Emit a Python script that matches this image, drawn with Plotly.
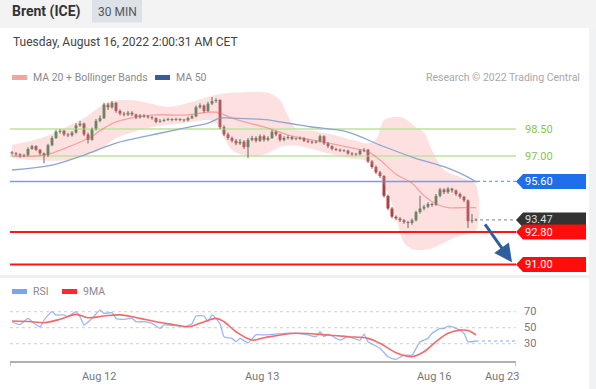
import plotly.graph_objects as go

W, H = 596, 389
def px(x): return x / W
def py(y): return 1 - y / H

FONT = "Roboto"

# ---------------- data ----------------
opens = [97.20, 97.15, 97.10, 97.00, 97.05, 97.40, 97.55, 97.35, 97.15, 97.05,
         97.60, 98.00, 98.35, 98.40, 98.20, 98.15, 98.30, 98.70, 98.80, 98.20,
         97.90, 98.50, 98.95, 99.10, 99.85, 99.70, 99.95, 99.50, 99.35, 99.30,
         99.40, 99.30, 99.15, 99.25, 99.20, 99.15, 99.10, 98.90, 98.95, 99.00,
         99.05, 99.00, 99.05, 99.00, 98.98, 99.10, 99.20, 99.70, 99.80, 99.50,
         99.90, 100.05, 100.10, 98.60, 98.20, 98.00, 97.85, 97.70, 97.80, 97.50,
         97.90, 98.00, 97.85, 98.10, 97.90, 98.00, 98.35, 98.20, 97.90, 98.00,
         98.05, 97.95, 97.95, 98.00, 97.85, 97.80, 97.75, 97.80, 98.10, 97.70,
         97.55, 97.40, 97.35, 97.30, 97.30, 97.15, 97.10, 97.10, 97.30, 97.35,
         96.70, 96.40, 96.10, 95.90, 94.80, 94.10, 93.65, 93.55, 93.45, 93.35,
         93.30, 93.45, 93.90, 94.10, 94.20, 94.35, 94.30, 94.80, 95.15, 95.00,
         95.20, 95.10, 94.90, 94.75, 94.55, 93.40, 93.45]
highs = [97.28, 97.22, 97.15, 97.12, 97.48, 97.62, 97.60, 97.40, 97.20, 97.68,
         98.10, 98.45, 98.48, 98.45, 98.28, 98.38, 98.82, 98.95, 98.85, 98.30,
         98.58, 99.05, 99.25, 99.95, 99.95, 100.05, 100.00, 99.58, 99.45, 99.50,
         99.48, 99.35, 99.32, 99.32, 99.26, 99.22, 99.15, 99.05, 99.08, 99.12,
         99.10, 99.12, 99.10, 99.06, 99.18, 99.30, 99.80, 99.92, 99.85, 100.00,
         100.27, 100.20, 100.15, 98.70, 98.30, 98.08, 97.95, 97.95, 97.88, 98.00,
         98.12, 98.10, 98.20, 98.18, 98.10, 98.45, 98.42, 98.25, 98.10, 98.15,
         98.10, 98.02, 98.08, 98.05, 97.92, 97.86, 97.88, 98.18, 98.15, 97.78,
         97.60, 97.46, 97.42, 97.38, 97.35, 97.22, 97.18, 97.38, 97.45, 97.40,
         96.78, 96.48, 96.18, 95.95, 94.88, 94.18, 93.72, 93.62, 93.52, 93.42,
         93.55, 93.98, 94.80, 94.30, 94.45, 94.42, 94.90, 95.25, 95.22, 95.28,
         95.25, 95.15, 94.98, 94.80, 94.60, 93.80, 93.55]
lows = [97.08, 97.02, 96.92, 96.95, 97.00, 97.35, 97.28, 97.05, 96.60, 96.95,
        97.55, 97.95, 98.25, 98.10, 98.05, 98.08, 98.25, 98.62, 98.10, 97.70,
        97.85, 98.42, 98.88, 99.05, 99.55, 99.62, 99.40, 99.25, 99.20, 99.22,
        99.22, 99.05, 99.08, 99.12, 99.08, 99.02, 98.82, 98.85, 98.90, 98.95,
        98.92, 98.95, 98.93, 98.90, 98.92, 99.05, 99.15, 99.62, 99.40, 99.45,
        99.82, 99.95, 98.50, 98.10, 97.90, 97.75, 97.60, 97.62, 97.40, 96.90,
        97.82, 97.75, 97.78, 97.80, 97.82, 97.95, 98.10, 97.80, 97.82, 97.92,
        97.88, 97.88, 97.90, 97.78, 97.72, 97.68, 97.70, 97.75, 97.62, 97.45,
        97.32, 97.28, 97.22, 97.22, 97.08, 97.02, 97.02, 97.05, 97.22, 96.62,
        96.30, 96.00, 95.80, 94.70, 94.00, 93.55, 93.45, 93.35, 93.25, 93.02,
        93.20, 93.38, 93.82, 94.00, 94.12, 94.20, 94.25, 94.72, 94.90, 94.92,
        94.98, 94.80, 94.65, 94.45, 93.02, 93.30, 93.40]
closes = [97.15, 97.10, 97.00, 97.05, 97.40, 97.55, 97.35, 97.15, 97.05, 97.60,
          98.00, 98.35, 98.40, 98.20, 98.15, 98.30, 98.70, 98.80, 98.20, 97.90,
          98.50, 98.95, 99.10, 99.85, 99.70, 99.95, 99.50, 99.35, 99.30, 99.40,
          99.30, 99.15, 99.25, 99.20, 99.15, 99.10, 98.90, 98.95, 99.00, 99.05,
          99.00, 99.05, 99.00, 98.98, 99.10, 99.20, 99.70, 99.80, 99.50, 99.90,
          100.05, 100.10, 98.60, 98.20, 98.00, 97.85, 97.70, 97.80, 97.50, 97.90,
          98.00, 97.85, 98.10, 97.90, 98.00, 98.35, 98.20, 97.90, 98.00, 98.05,
          97.95, 97.95, 98.00, 97.85, 97.80, 97.75, 97.80, 98.10, 97.70, 97.55,
          97.40, 97.35, 97.30, 97.30, 97.15, 97.10, 97.10, 97.30, 97.35, 96.70,
          96.40, 96.10, 95.90, 94.80, 94.10, 93.65, 93.55, 93.45, 93.35, 93.30,
          93.45, 93.90, 94.10, 94.20, 94.35, 94.30, 94.80, 95.15, 95.00, 95.20,
          95.10, 94.90, 94.75, 94.55, 93.40, 93.45, 93.47]
bars = list(range(len(closes)))

ma20_i = [0, 8, 14, 20, 22, 26, 35, 43, 50, 52, 55, 64, 70, 75, 84, 89, 92, 96, 100, 103, 106, 109, 113, 116]
ma20_v = [97.0, 97.06, 97.5, 98.1, 98.4, 98.89, 99.27, 99.27, 99.44, 99.38, 99.1, 98.55, 98.1, 97.9,
          97.5, 97.23, 96.78, 96.0, 95.5, 94.8, 94.35, 94.15, 94.15, 94.15]
bbu_i = [0, 8, 18, 24, 30, 39, 44, 51, 55, 60, 64, 67, 69, 71, 75, 80, 85, 89, 91, 93, 96, 98, 101, 103, 105, 108, 112, 116]
bbu_v = [97.61, 98.06, 99.11, 100.0, 100.1, 99.72, 99.94, 100.4, 100.5, 100.55, 100.5, 100.1, 99.2, 98.5,
         98.4, 98.2, 97.9, 97.7, 97.9, 99.0, 99.16, 99.1, 98.6, 98.3, 97.34, 96.23, 95.84, 95.4]
bbl_i = [0, 5, 14, 22, 26, 35, 43, 49, 51, 55, 60, 64, 67, 70, 75, 80, 85, 89, 92, 94, 96, 98, 100, 102, 105, 108, 112, 116]
bbl_v = [96.9, 96.78, 96.78, 97.34, 98.0, 98.6, 98.83, 99.0, 98.83, 97.34, 96.95, 97.17, 97.5, 97.6,
         97.4, 97.1, 96.85, 96.7, 95.8, 94.96, 93.6, 92.2, 91.85, 91.8, 91.9, 92.2, 92.6, 92.9]
ma50_i = [0, 10, 18, 26, 35, 43, 49, 52, 55, 64, 67, 72, 75, 84, 92, 100, 109, 114, 116]
ma50_v = [96.23, 96.5, 97.06, 97.72, 98.17, 98.55, 98.83, 99.1, 99.1, 99.0, 98.89, 98.72, 98.61, 98.33,
          97.61, 96.95, 96.34, 95.84, 95.57]

rsi_i = [0, 2, 4, 5, 7, 8, 10, 11, 13, 14, 16, 17, 18, 20, 22, 23, 25, 26, 28, 30,
         31, 33, 35, 37, 38, 41, 43, 45, 46, 48, 49, 50, 52, 53, 55, 56, 57, 59, 61, 63,
         66, 68, 71, 74, 76, 77, 78, 79, 82, 84, 87, 88, 89, 92, 94, 96, 98, 100, 102, 104,
         105, 107, 108, 109, 111, 113, 114, 116]
rsi_v = [57.5, 54, 61.7, 57.5, 51, 59.6, 70, 66, 66, 63.7, 70, 63.7, 53.4, 61.7, 72, 68, 68.8, 61.7, 60.5, 61.7,
         57.5, 57.5, 55.5, 49.2, 53.4, 52.5, 51, 55, 64.6, 64.6, 57.5, 66, 55, 38.8, 36.7, 32.5, 36.7, 31.3, 41, 41,
         42, 43, 43, 41, 38.8, 45, 38.8, 42, 34.6, 38.8, 34.6, 42, 32.5, 24.2, 13.8, 10.5, 15.8, 15.8, 32.5, 36.7,
         43, 49.2, 48.8, 52, 49.2, 43, 32.5, 33.4]
ma9_i = [0, 5, 8, 12, 16, 19, 23, 27, 32, 36, 40, 44, 47, 51, 53, 56, 60, 63, 71, 79,
         84, 89, 92, 96, 100, 103, 106, 109, 112, 114, 116]
ma9_v = [58.4, 57.5, 56.3, 60.5, 66.7, 62.5, 64.6, 66, 61.7, 57.5, 54.2, 51.3, 55.5, 61.7, 57.5, 45, 34.6, 37.5, 43, 40.9,
         38.8, 36.7, 30.5, 18.8, 13.8, 20, 32.5, 43, 47, 46.4, 40.9]
rsi_levels = [70, 50, 30]

resist_levels = [98.50, 97.00]
pivot = 95.60
last_price = 93.47
support = 92.80
target = 91.00

tick_pos = [21.8, 62.4, 105.4, 122.4]
tick_text = ["Aug 12", "Aug 13", "Aug 16", "Aug 23"]

# ---------------- styling ----------------
GREEN = "#2f8f3a"
RED = "#d9262c"
X0, X1 = -0.5, 126
XEND = 116.25
PPU = 18.07
Y_TOP = 98.5 + (129 - 88) / PPU
Y_BOT = 98.5 - (275 - 129) / PPU

fig = go.Figure()

# Bollinger band
fig.add_trace(go.Scatter(x=bbu_i + bbl_i[::-1], y=bbu_v + bbl_v[::-1], fill="toself",
                         fillcolor="rgba(250,175,175,0.38)", mode="lines",
                         line=dict(width=0, color="rgba(0,0,0,0)", shape="spline", smoothing=0.8),
                         hoverinfo="skip", yaxis="y"))
# resistance lines
for lv in resist_levels:
    fig.add_trace(go.Scatter(x=[X0, X1], y=[lv, lv], mode="lines",
                             line=dict(color="#bfe09f", width=1.5), yaxis="y"))
# pivot line
fig.add_trace(go.Scatter(x=[X0, XEND], y=[pivot, pivot], mode="lines",
                         line=dict(color="#6f9ef5", width=1.5), yaxis="y"))
fig.add_trace(go.Scatter(x=[XEND, X1], y=[pivot, pivot], mode="lines",
                         line=dict(color="#6f9ef5", width=1.2, dash="dot"), yaxis="y"))
# last price dotted
fig.add_trace(go.Scatter(x=[bars[-1] + 1, X1], y=[last_price, last_price], mode="lines",
                         line=dict(color="#999999", width=1.2, dash="dot"), yaxis="y"))
# MA lines
fig.add_trace(go.Scatter(x=ma50_i, y=ma50_v, mode="lines",
                         line=dict(color="#8ea5cf", width=1.3, shape="spline", smoothing=1), yaxis="y"))
fig.add_trace(go.Scatter(x=ma20_i, y=ma20_v, mode="lines",
                         line=dict(color="rgba(240,120,120,0.6)", width=1.3, shape="spline", smoothing=1), yaxis="y"))
# candles: wicks
wx, wy = [], []
for i, (h, l) in enumerate(zip(highs, lows)):
    wx += [i, i, None]
    wy += [l, h, None]
fig.add_trace(go.Scatter(x=wx, y=wy, mode="lines", line=dict(color="#666666", width=1), yaxis="y"))
body_base = [min(o, c) for o, c in zip(opens, closes)]
body_h = [max(abs(c - o), 0.04) for o, c in zip(opens, closes)]
body_col = [GREEN if c >= o else RED for o, c in zip(opens, closes)]
fig.add_trace(go.Bar(x=bars, y=body_h, base=body_base, width=0.75,
                     marker=dict(color=body_col, line=dict(width=0)), yaxis="y"))
# support / target lines
for lv in [support, target]:
    fig.add_trace(go.Scatter(x=[X0, X1], y=[lv, lv], mode="lines",
                             line=dict(color="#ff1515", width=2), yaxis="y"))

# RSI panel
for lv in rsi_levels:
    fig.add_trace(go.Scatter(x=[X0, X1], y=[lv, lv], mode="lines",
                             line=dict(color="#cfcfcf", width=1, dash="dot"), yaxis="y2"))
fig.add_trace(go.Scatter(x=[rsi_i[-1], X1], y=[rsi_v[-1], rsi_v[-1]], mode="lines",
                         line=dict(color="#8aa9f2", width=1.2, dash="dot"), yaxis="y2"))
fig.add_trace(go.Scatter(x=rsi_i, y=rsi_v, mode="lines",
                         line=dict(color="#9db6f2", width=1.3, shape="spline", smoothing=0.5), yaxis="y2"))
fig.add_trace(go.Scatter(x=ma9_i, y=ma9_v, mode="lines",
                         line=dict(color="#f26a6a", width=1.6, shape="spline", smoothing=1), yaxis="y2"))

shapes = []
# header band
shapes.append(dict(type="rect", xref="paper", yref="paper", x0=0, x1=1, y0=py(28), y1=1,
                   fillcolor="#f3f3f3", line=dict(width=0), layer="below"))
shapes.append(dict(type="rect", xref="paper", yref="paper", x0=px(92), x1=px(142), y0=py(22.5), y1=1,
                   fillcolor="#dde2e8", line=dict(width=0), layer="below"))
# separators
shapes.append(dict(type="rect", xref="paper", yref="paper", x0=0, x1=1, y0=py(278), y1=py(275),
                   fillcolor="#eef0f2", line=dict(width=0), layer="below"))
shapes.append(dict(type="rect", xref="paper", yref="paper", x0=px(589), x1=1, y0=0, y1=py(28),
                   fillcolor="#f1f2f4", line=dict(width=0), layer="below"))
# legend swatches
shapes.append(dict(type="rect", xref="paper", yref="paper", x0=px(12), x1=px(27), y0=py(80), y1=py(75),
                   fillcolor="#f8a3a3", line=dict(width=0)))
shapes.append(dict(type="rect", xref="paper", yref="paper", x0=px(155), x1=px(170), y0=py(80), y1=py(75),
                   fillcolor="#3a5a98", line=dict(width=0)))
shapes.append(dict(type="rect", xref="paper", yref="paper", x0=px(12), x1=px(27), y0=py(294), y1=py(289),
                   fillcolor="#7fa2f0", line=dict(width=0)))
shapes.append(dict(type="rect", xref="paper", yref="paper", x0=px(62), x1=px(77), y0=py(294), y1=py(289),
                   fillcolor="#ff2a2a", line=dict(width=0)))
# x-axis end ticks
for xv in [X0, X1]:
    shapes.append(dict(type="line", xref="x", yref="paper", x0=xv, x1=xv, y0=py(366), y1=py(361),
                       line=dict(color="#b0b0b0", width=1.5)))

# price label boxes
HB = 7.5 / PPU
def box(price, color):
    xt, xl, xr = px(516), px(523), px(586)
    return dict(type="path", xref="paper", yref="y",
                path=f"M {xt},{price} L {xl},{price + HB} L {xr},{price + HB} L {xr},{price - HB} L {xl},{price - HB} Z",
                fillcolor=color, line=dict(width=0), layer="above")
shapes.append(box(pivot, "#1f6fec"))
shapes.append(box(last_price, "#333333"))
shapes.append(box(support, "#ff0d0d"))
shapes.append(box(target, "#ff0d0d"))

ann = []
def txt(x, y, s, size, color, xanchor="left", yref="paper", bold=False, xref="paper"):
    ann.append(dict(x=x, y=y, xref=xref, yref=yref, text=f"<b>{s}</b>" if bold else s,
                    showarrow=False, xanchor=xanchor, yanchor="middle",
                    font=dict(family=FONT, size=size, color=color)))

txt(px(10), py(11.5), "Brent (ICE)", 14, "#333333", bold=True)
txt(px(117), py(11.5), "30 MIN", 12, "#555555", xanchor="center")
txt(px(11), py(42), "Tuesday, August 16, 2022 2:00:31 AM CET", 12, "#444444")
txt(px(31), py(77.5), "MA 20 + Bollinger Bands", 10.5, "#8a8a8a")
txt(px(174), py(77.5), "MA 50", 10.5, "#8a8a8a")
txt(px(582), py(77.5), "Research © 2022 Trading Central", 10.5, "#a8a8a8", xanchor="right")
txt(px(31), py(291.5), "RSI", 10.5, "#8a8a8a")
txt(px(81), py(291.5), "9MA", 10.5, "#8a8a8a")

for lv in resist_levels:
    txt(px(523), lv, f"{lv:.2f}", 11, "#8cc152", yref="y")
txt(px(523), pivot, f"{pivot:.2f}", 11, "#ffffff", yref="y")
txt(px(523), last_price, f"{last_price:.2f}", 11, "#dddddd", yref="y")
txt(px(523), support, f"{support:.2f}", 11, "#ffffff", yref="y")
txt(px(523), target, f"{target:.2f}", 11, "#ffffff", yref="y")
for lv in rsi_levels:
    txt(px(522), lv, str(lv), 11, "#777777", yref="y2")
for tp, tt in zip(tick_pos, tick_text):
    txt(tp, py(376), tt, 11, "#777777", xanchor="center", xref="x")

# forecast arrow
ann.append(dict(x=125, y=91.12, xref="x", yref="y", ax=118, ay=93.3, axref="x", ayref="y",
                showarrow=True, arrowhead=2, arrowsize=1.2, arrowwidth=3, arrowcolor="#2f5e9e", text=""))

fig.update_layout(
    width=W, height=H, margin=dict(l=0, r=0, t=0, b=0),
    paper_bgcolor="white", plot_bgcolor="rgba(0,0,0,0)",
    showlegend=False, hovermode=False, shapes=shapes, annotations=ann,
    font=dict(family=FONT),
    xaxis=dict(domain=[px(10), px(516)], range=[X0, X1], anchor="y2", showgrid=False, zeroline=False,
               showline=True, linecolor="#b0b0b0", linewidth=1.5, showticklabels=False, ticks=""),
    yaxis=dict(domain=[py(275), py(88)], range=[Y_BOT, Y_TOP], visible=False),
    yaxis2=dict(domain=[py(361), py(295)], range=[8.4, 90.9], visible=False),
)

fig.write_html("out.html", config={"displayModeBar": False, "staticPlot": True},
               post_script="document.body.style.margin='0';document.body.style.overflow='hidden';")
